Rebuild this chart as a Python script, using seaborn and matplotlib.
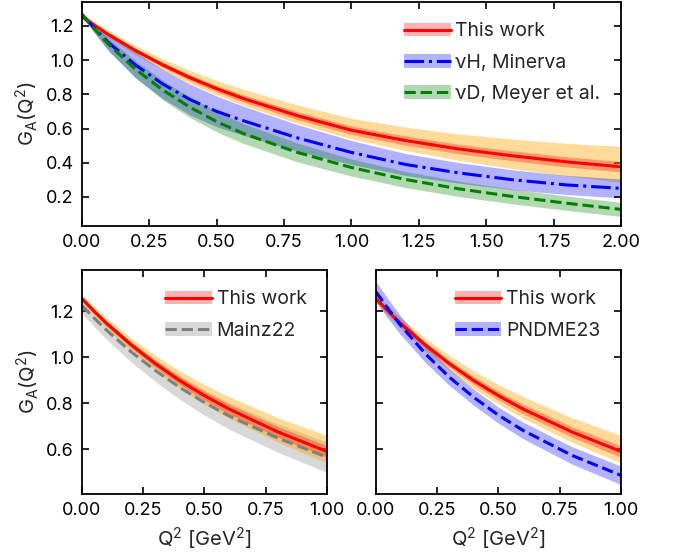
import numpy as np
import pandas as pd
import matplotlib
matplotlib.use("Agg")
import matplotlib.pyplot as plt
import seaborn as sns
from matplotlib.patches import Patch
from matplotlib.lines import Line2D

# Q^2 grid (GeV^2) and form factor values
q_top = [0, 0.05, 0.1, 0.2, 0.3, 0.4, 0.5, 0.6, 0.8, 1.0, 1.2, 1.4, 1.6, 1.8, 2.0]

this_work = [1.255, 1.20, 1.148, 1.055, 0.972, 0.898, 0.833, 0.775, 0.675, 0.59, 0.53, 0.48, 0.44, 0.405, 0.376]
tw_stat = [0.008, 0.009, 0.011, 0.013, 0.015, 0.017, 0.019, 0.021, 0.023, 0.025, 0.027, 0.028, 0.029, 0.03, 0.03]
tw_tot_lo = [0.018, 0.02, 0.022, 0.026, 0.03, 0.034, 0.037, 0.04, 0.045, 0.05, 0.058, 0.066, 0.075, 0.083, 0.09]
tw_tot_hi = [0.018, 0.022, 0.025, 0.03, 0.036, 0.042, 0.048, 0.054, 0.062, 0.07, 0.078, 0.088, 0.098, 0.108, 0.12]

minerva = [1.265, 1.18, 1.10, 0.97, 0.86, 0.77, 0.70, 0.645, 0.545, 0.46, 0.39, 0.34, 0.30, 0.27, 0.25]
minerva_err = [0.01, 0.03, 0.05, 0.075, 0.085, 0.09, 0.09, 0.085, 0.078, 0.07, 0.064, 0.06, 0.058, 0.056, 0.055]

meyer = [1.27, 1.175, 1.09, 0.945, 0.825, 0.725, 0.64, 0.57, 0.46, 0.372, 0.302, 0.247, 0.202, 0.163, 0.127]
meyer_err = [0.005, 0.02, 0.035, 0.05, 0.058, 0.06, 0.06, 0.058, 0.055, 0.05, 0.047, 0.045, 0.043, 0.042, 0.041]

q_bot = [0, 0.05, 0.1, 0.2, 0.3, 0.4, 0.5, 0.6, 0.8, 1.0]

mainz = [1.225, 1.17, 1.118, 1.024, 0.942, 0.868, 0.803, 0.745, 0.648, 0.565]
mainz_err = [0.035, 0.037, 0.04, 0.044, 0.048, 0.052, 0.055, 0.058, 0.062, 0.066]

pndme = [1.285, 1.21, 1.14, 1.017, 0.913, 0.825, 0.748, 0.682, 0.573, 0.486]
pndme_err = [0.045, 0.043, 0.041, 0.038, 0.036, 0.035, 0.035, 0.036, 0.038, 0.04]

sns.set_style("ticks")
plt.rcParams["font.family"] = ["Inter", "DejaVu Sans"]
plt.rcParams["mathtext.fontset"] = "custom"
plt.rcParams["mathtext.rm"] = "Inter"
plt.rcParams["mathtext.it"] = "Inter:italic"
plt.rcParams["mathtext.sf"] = "Inter"

fig = plt.figure(figsize=(6.76, 5.59), dpi=100)
ax_top = fig.add_axes([0.1213, 0.5957, 0.7973, 0.4007])
ax_bl = fig.add_axes([0.1213, 0.1163, 0.3624, 0.4007])
ax_br = fig.add_axes([0.5562, 0.1163, 0.3624, 0.4007])


def band(ax, q, center, lo, hi, color, alpha):
    c = np.array(center)
    ax.fill_between(q, c - np.array(lo), c + np.array(hi), color=color, alpha=alpha, lw=0)


def curve(ax, q, vals, color, ls):
    sns.lineplot(x=q, y=vals, ax=ax, color=color, lw=2.2, linestyle=ls, sort=False)


def this_work_curve(ax, n):
    q = q_top[:n]
    band(ax, q, this_work[:n], tw_tot_lo[:n], tw_tot_hi[:n], "orange", 0.4)
    band(ax, q, this_work[:n], tw_stat[:n], tw_stat[:n], "red", 0.3)
    curve(ax, q, this_work[:n], "red", "-")


def tw_handle():
    return (Patch(facecolor="red", alpha=0.3, lw=0), Line2D([], [], color="red", lw=2.2))


def style(ax):
    ax.tick_params(direction="in", top=True, right=True, length=5, width=1.2,
                   labelsize=13, pad=6, colors="black")
    for s in ax.spines.values():
        s.set_linewidth(1.3)
        s.set_color("black")


leg_kw = dict(loc="upper right", frameon=False, fontsize=14, handlelength=2.4,
              handletextpad=0.25, labelspacing=0.68, borderaxespad=0.65)

# top panel
this_work_curve(ax_top, len(q_top))
band(ax_top, q_top, minerva, minerva_err, minerva_err, "blue", 0.3)
curve(ax_top, q_top, minerva, "blue", "-.")
band(ax_top, q_top, meyer, meyer_err, meyer_err, "green", 0.3)
curve(ax_top, q_top, meyer, "green", "--")
ax_top.set_xlim(0, 2)
ax_top.set_ylim(0.03, 1.34)
ax_top.set_xticks([0, 0.25, 0.5, 0.75, 1.0, 1.25, 1.5, 1.75, 2.0])
ax_top.set_yticks([0.2, 0.4, 0.6, 0.8, 1.0, 1.2])
ax_top.xaxis.set_major_formatter(matplotlib.ticker.FormatStrFormatter("%.2f"))
ax_top.yaxis.set_major_formatter(matplotlib.ticker.FormatStrFormatter("%.1f"))
ax_top.set_ylabel(r"$\mathregular{G_A(Q^2)}$", fontsize=14.5, labelpad=3)
ax_top.set_xlabel("")
ax_top.legend(
    [tw_handle(),
     (Patch(facecolor="blue", alpha=0.3, lw=0), Line2D([], [], color="blue", lw=2.2, ls="-.")),
     (Patch(facecolor="green", alpha=0.3, lw=0), Line2D([], [], color="green", lw=2.2, ls="--"))],
    ["This work", "νH, Minerva", "νD, Meyer et al."], **leg_kw)

# bottom left
band(ax_bl, q_bot, mainz, mainz_err, mainz_err, "gray", 0.3)
curve(ax_bl, q_bot, mainz, "gray", "--")
this_work_curve(ax_bl, len(q_bot))
ax_bl.legend(
    [tw_handle(),
     (Patch(facecolor="gray", alpha=0.3, lw=0), Line2D([], [], color="gray", lw=2.2, ls="--"))],
    ["This work", "Mainz22"], **leg_kw)

# bottom right
this_work_curve(ax_br, len(q_bot))
band(ax_br, q_bot, pndme, pndme_err, pndme_err, "blue", 0.3)
curve(ax_br, q_bot, pndme, "blue", "--")
ax_br.legend(
    [tw_handle(),
     (Patch(facecolor="blue", alpha=0.3, lw=0), Line2D([], [], color="blue", lw=2.2, ls="--"))],
    ["This work", "PNDME23"], **leg_kw)

for ax in (ax_bl, ax_br):
    ax.set_xlim(0, 1)
    ax.set_ylim(0.405, 1.38)
    ax.set_xticks([0, 0.25, 0.5, 0.75, 1.0])
    ax.set_yticks([0.6, 0.8, 1.0, 1.2])
    ax.xaxis.set_major_formatter(matplotlib.ticker.FormatStrFormatter("%.2f"))
    ax.yaxis.set_major_formatter(matplotlib.ticker.FormatStrFormatter("%.1f"))
    ax.set_xlabel(r"$\mathregular{Q^2\ [GeV^2]}$", fontsize=14.5, labelpad=4)

ax_bl.set_ylabel(r"$\mathregular{G_A(Q^2)}$", fontsize=14.5, labelpad=3)
ax_br.set_ylabel("")
ax_br.set_yticklabels([])

for ax in (ax_top, ax_bl, ax_br):
    style(ax)

fig.savefig("out.png", dpi=100)
